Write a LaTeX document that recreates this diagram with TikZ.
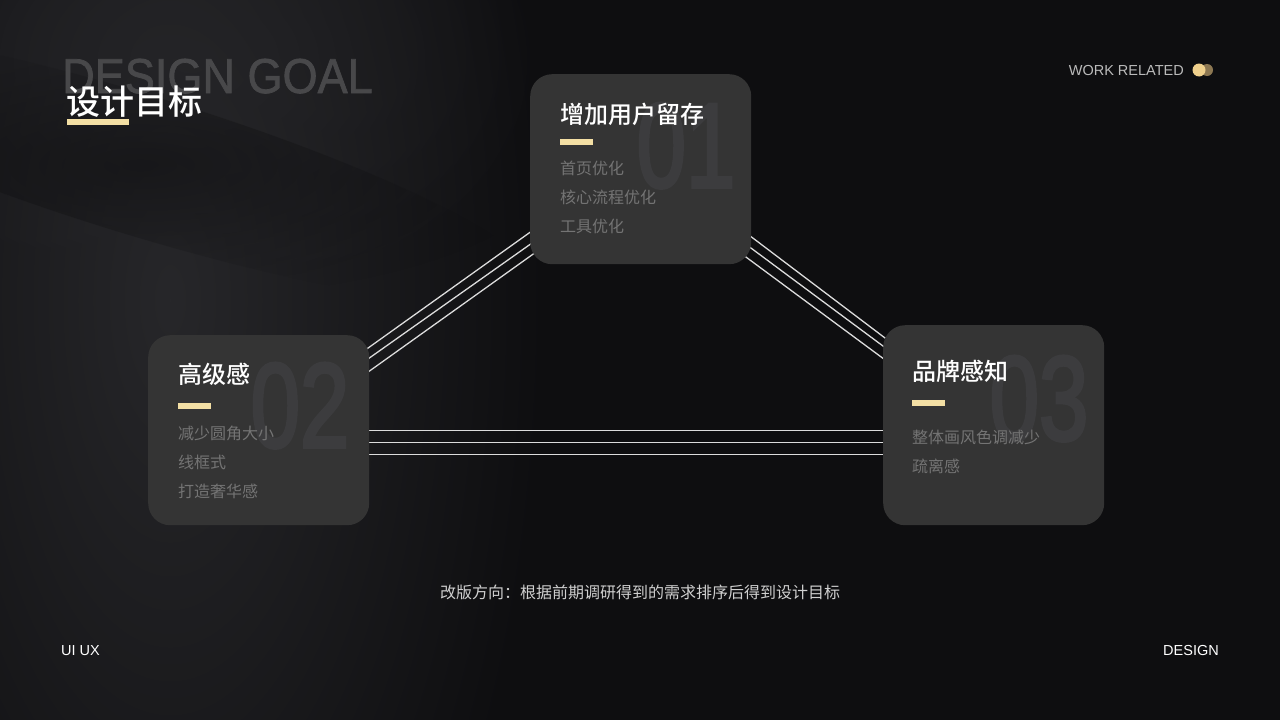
\documentclass[tikz,border=0pt]{standalone}
\usepackage{fontspec}
\setmainfont{Liberation Sans}
\newfontfamily\cjk{Noto Sans CJK SC}[BoldFont={Noto Sans CJK SC Medium}]
\newfontfamily\heavysans{Liberation Sans}[FakeBold=1.5]
\newfontfamily\numsans{Liberation Sans}[FakeBold=3]
\usepackage{xcolor}
\usepackage{tikz}
\usetikzlibrary{positioning,calc,backgrounds,fadings}

\definecolor{bgdark}{HTML}{0E0E10}
\definecolor{bgglow}{HTML}{27272A}
\definecolor{cardgray}{HTML}{343434}
\definecolor{numgray}{HTML}{3C3C3E}
\definecolor{goalgray}{HTML}{48484A}
\definecolor{itemgray}{HTML}{747474}
\definecolor{gold}{HTML}{F3DFA4}
\definecolor{dotgold}{HTML}{EFD08C}
\definecolor{darkgold}{HTML}{8C7752}
\definecolor{linkgray}{HTML}{DCDCDC}
\definecolor{softwhite}{HTML}{D0D0D0}

\newcommand{\px}[1]{\fontsize{#1pt}{#1pt}\selectfont}

\tikzfading[name=softblob, inner color=transparent!0, outer color=transparent!100]

\tikzset{
  card/.style={fill=cardgray, rounded corners=22pt, minimum width=221pt, minimum height=190pt, anchor=north west, inner sep=0},
  cardtitle/.style={anchor=base west, inner sep=0, text=white, font=\cjk\bfseries\px{24}},
  carditem/.style={anchor=base west, inner sep=0, text=itemgray, font=\cjk\px{16}},
  bignum/.style={anchor=base, inner sep=0, text=numgray, font=\numsans\px{120}, xscale=0.74, transform shape},
  link/.style={draw=linkgray, line width=1.3pt},
}

\begin{document}
\begin{tikzpicture}[x=1pt, y=-1pt]
  \useasboundingbox (0,0) rectangle (1280,720);

  % backdrop
  \begin{scope}[on background layer]
    \fill[bgdark] (0,0) rectangle (1280,720);
    \fill[bgglow, path fading=softblob] (170,300) ellipse [x radius=380, y radius=860];
    \fill[bgglow, opacity=0.6, path fading=softblob] (190,60) ellipse [x radius=360, y radius=260];
    \fill[bgdark, opacity=0.55, path fading=softblob, rotate around={-17:(140,165)}] (140,165) ellipse [x radius=420, y radius=70];
  \end{scope}

  % heading
  \node[anchor=base west, inner sep=0, text=goalgray, font=\heavysans\px{49}, xscale=0.92, transform shape] (goal) at (62,93) {DESIGN GOAL};
  \node[anchor=base west, inner sep=0, text=white, font=\cjk\bfseries\px{34}] (title) at (66,114) {设计目标};
  \fill[gold] (67,119) rectangle (129,125);

  \node[anchor=base east, inner sep=0, text=softwhite!90!black, font=\px{14.5}] (work) at (1184,75) {WORK RELATED};
  \fill[darkgold] (1207,70) circle (6);
  \fill[dotgold] (1199,70) circle (6.5);

  % cards
  \node[card] (c1) at (530,74) {};
  \node[card] (c2) at (148,335) {};
  \node[card, minimum height=200pt] (c3) at (883,325) {};

  \node[bignum] (n1) at (686,187) {01};
  \node[bignum] (n2) at (300,447) {02};
  \node[bignum] (n3) at (1039,440) {03};

  \node[cardtitle] (t1) at (560,123) {增加用户留存};
  \fill[gold] (560,139) rectangle (593,145);
  \node[carditem] (i11) at (560,174) {首页优化};
  \node[carditem] (i12) at (560,203) {核心流程优化};
  \node[carditem] (i13) at (560,232) {工具优化};

  \node[cardtitle] (t2) at (178,383) {高级感};
  \fill[gold] (178,403) rectangle (211,409);
  \node[carditem] (i21) at (178,439) {减少圆角大小};
  \node[carditem] (i22) at (178,468) {线框式};
  \node[carditem] (i23) at (178,497) {打造奢华感};

  \node[cardtitle] (t3) at (912,380) {品牌感知};
  \fill[gold] (912,400) rectangle (945,406);
  \node[carditem] (i31) at (912,443) {整体画风色调减少};
  \node[carditem] (i32) at (912,472) {疏离感};

  % links between the cards
  \begin{scope}[on background layer]
    \foreach \a/\b in {16/4, 3/-6, -8/-20}
      \draw[link] ([yshift=\a pt]c1.center) -- ([yshift=\b pt]c2.center);
    \foreach \a/\b in {16/5, 3/-3, -10/-15}
      \draw[link] ([yshift=\a pt]c1.center) -- ([yshift=\b pt]c3.center);
    \foreach \d in {0,12,24} {
      \path (c2.east) ++(0,\d) coordinate (h);
      \draw[link] (h) -- (h -| c3.center);
    }
  \end{scope}

  % footer
  \node[anchor=base, inner sep=0, text=softwhite, font=\cjk\px{16}] (note) at (640,598) {改版方向：根据前期调研得到的需求排序后得到设计目标};
  \node[anchor=base west, inner sep=0, text=white, font=\px{14.5}] (uiux) at (61,655) {UI UX};
  \node[anchor=base east, inner sep=0, text=white, font=\px{14.5}] (design) at (1219,655) {DESIGN};
\end{tikzpicture}
\end{document}
